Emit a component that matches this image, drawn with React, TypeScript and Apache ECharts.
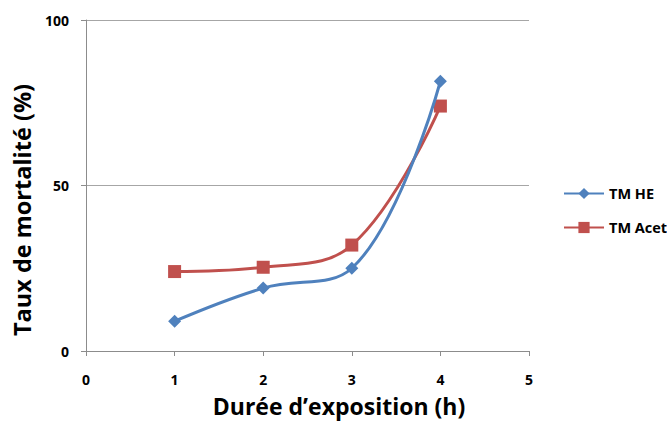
import React, { useEffect, useRef } from "react";
import * as echarts from "echarts";

const xValues = [1, 2, 3, 4];
const tmHE = [9, 19, 25, 81.5];
const tmAcet = [24, 25.3, 32, 74];
const seriesNames = ["TM HE", "TM Acet"];
const xTitle = "Durée d’exposition (h)";
const yTitle = "Taux de mortalité (%)";

const FONT = "'Open Sans', 'Liberation Sans', sans-serif";

export default function App() {
  const ref = useRef<HTMLDivElement>(null);
  useEffect(() => {
    if (!ref.current) return;
    const chart = echarts.init(ref.current, null, { renderer: "svg" });
    chart.setOption({
      animation: false,
      backgroundColor: "#ffffff",
      grid: { left: 86, right: 138, top: 20, bottom: 70, containLabel: false },
      legend: {
        orient: "vertical",
        left: 558,
        top: 181,
        itemGap: 19,
        itemWidth: 40,
        itemHeight: 14,
        textStyle: { fontFamily: FONT, fontWeight: "bold", fontSize: 14.5, color: "#000" },
        data: seriesNames,
      },
      xAxis: {
        type: "value",
        min: 0,
        max: 5,
        interval: 1,
        axisLine: { show: true, onZero: false, lineStyle: { color: "#8c8c8c", width: 1 } },
        axisTick: { show: true, length: 5, lineStyle: { color: "#8c8c8c" } },
        axisLabel: {
          margin: 21,
          fontFamily: FONT,
          fontWeight: "bold",
          fontSize: 14,
          lineHeight: 14,
          color: "#000",
        },
        splitLine: { show: false },
      },
      yAxis: {
        type: "value",
        min: 0,
        max: 100,
        interval: 50,
        axisLine: { show: true, lineStyle: { color: "#8c8c8c", width: 1 } },
        axisTick: { show: true, length: 5, lineStyle: { color: "#8c8c8c" } },
        axisLabel: { margin: 17, fontFamily: FONT, fontWeight: "bold", fontSize: 14, color: "#000" },
        splitLine: { show: true, lineStyle: { color: "#a6a6a6", width: 1 } },
      },
      series: [
        {
          name: seriesNames[0],
          type: "line",
          smooth: 0.4,
          data: xValues.map((x, i) => [x, tmHE[i]]),
          symbol: "diamond",
          symbolSize: 13,
          lineStyle: { color: "#4F81BD", width: 3 },
          itemStyle: { color: "#4F81BD" },
          z: 3,
        },
        {
          name: seriesNames[1],
          type: "line",
          smooth: 0.4,
          data: xValues.map((x, i) => [x, tmAcet[i]]),
          symbol: "rect",
          symbolSize: 13,
          lineStyle: { color: "#C0504D", width: 3 },
          itemStyle: { color: "#C0504D" },
          z: 2,
        },
      ],
      graphic: [
        {
          type: "text",
          x: 339,
          y: 406,
          style: {
            text: xTitle,
            fontFamily: FONT,
            fontWeight: "bold",
            fontSize: 23,
            lineHeight: 24,
            fill: "#000",
            align: "center",
            verticalAlign: "middle",
          },
        },
        {
          type: "text",
          x: 22,
          y: 210,
          rotation: Math.PI / 2,
          style: {
            text: yTitle,
            fontFamily: FONT,
            fontWeight: "bold",
            fontSize: 23.5,
            lineHeight: 26,
            fill: "#000",
            align: "center",
            verticalAlign: "middle",
          },
        },
      ],
    });
    return () => chart.dispose();
  }, []);
  return <div ref={ref} style={{ width: 667, height: 421, position: "absolute", left: 0, top: 0 }} />;
}
